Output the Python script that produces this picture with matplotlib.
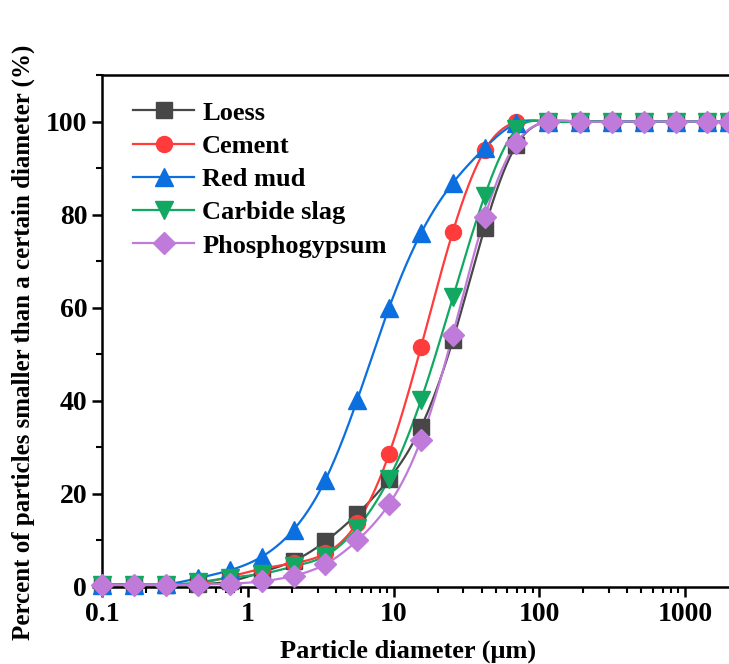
import numpy as np
import matplotlib
matplotlib.use("Agg")
import matplotlib.pyplot as plt
from matplotlib.ticker import FixedLocator, NullFormatter, MultipleLocator

# Particle size bins (μm)
diameter = [0.1, 0.165, 0.274, 0.453, 0.749, 1.24, 2.05, 3.39, 5.61, 9.28,
            15.35, 25.4, 42.0, 69.5, 115, 190, 314, 520, 860, 1423, 2000]

# Cumulative passing (%)
loess = [0.4, 0.4, 0.4, 0.6, 1.2, 3.2, 5.6, 9.8, 15.7, 23.2,
         34.3, 53.0, 77.1, 95.0, 100, 100, 100, 100, 100, 100, 100]
cement = [0.5, 0.5, 0.5, 0.8, 2.2, 3.9, 5.1, 7.2, 13.8, 28.6,
          51.5, 76.3, 93.8, 99.9, 100, 100, 100, 100, 100, 100, 100]
red_mud = [0.5, 0.5, 0.6, 1.9, 3.6, 6.5, 12.3, 23.0, 40.2, 60.0,
           76.0, 86.8, 94.3, 99.6, 100, 100, 100, 100, 100, 100, 100]
carbide_slag = [0.5, 0.5, 0.5, 1.0, 2.0, 2.8, 4.4, 6.7, 12.7, 23.3,
                40.1, 62.2, 84.0, 98.3, 100, 100, 100, 100, 100, 100, 100]
phosphogypsum = [0.4, 0.4, 0.4, 0.5, 0.7, 1.2, 2.4, 4.9, 10.0, 17.8,
                 31.6, 54.2, 79.4, 95.5, 100, 100, 100, 100, 100, 100, 100]

labels = ["Loess", "Cement", "Red mud", "Carbide slag", "Phosphogypsum"]
colors = ["#474747", "#ff3b3b", "#0b6fe0", "#12a862", "#c07ad9"]
markers = ["s", "o", "^", "v", "D"]
sizes = [11.5, 11.5, 12.5, 12.5, 11.5]


def natural_spline(x, y, xn):
    x = np.asarray(x, float)
    y = np.asarray(y, float)
    n = len(x)
    h = np.diff(x)
    A = np.zeros((n, n))
    b = np.zeros(n)
    A[0, 0] = 1
    A[-1, -1] = 1
    for i in range(1, n - 1):
        A[i, i - 1] = h[i - 1]
        A[i, i] = 2 * (h[i - 1] + h[i])
        A[i, i + 1] = h[i]
        b[i] = 6 * ((y[i + 1] - y[i]) / h[i] - (y[i] - y[i - 1]) / h[i - 1])
    M = np.linalg.solve(A, b)
    idx = np.clip(np.searchsorted(x, xn) - 1, 0, n - 2)
    x0, x1 = x[idx], x[idx + 1]
    hh = x1 - x0
    t0 = x1 - xn
    t1 = xn - x0
    return (M[idx] * t0 ** 3 / (6 * hh) + M[idx + 1] * t1 ** 3 / (6 * hh)
            + (y[idx] / hh - M[idx] * hh / 6) * t0
            + (y[idx + 1] / hh - M[idx + 1] * hh / 6) * t1)


plt.rcParams["font.family"] = ["Liberation Serif", "DejaVu Serif"]
plt.rcParams["font.weight"] = "bold"

fig = plt.figure(figsize=(7.29, 6.64), dpi=100)
ax = fig.add_axes([0.1406, 0.116, 0.8594, 0.771])

lx = np.log10(diameter)
xs = np.linspace(lx[0], lx[-1], 800)
for series, lab, col, mk, ms in zip(
        [loess, cement, red_mud, carbide_slag, phosphogypsum],
        labels, colors, markers, sizes):
    ys = natural_spline(lx, series, xs)
    ax.plot(10 ** xs, ys, color=col, lw=1.6, zorder=2)
    ax.plot(diameter, series, linestyle="none", marker=mk, ms=ms,
            color=col, zorder=3, clip_on=False)
    ax.plot([], [], color=col, lw=1.6, marker=mk, ms=ms, label=lab)

ax.set_xscale("log")
ax.set_xlim(0.1, 2000)
ax.set_ylim(0, 110)
ax.set_xticks([0.1, 1, 10, 100, 1000])
ax.set_xticklabels(["0.1", "1", "10", "100", "1000"])
minors = [m * 10.0 ** e for e in range(-1, 4) for m in range(2, 10)]
ax.xaxis.set_minor_locator(FixedLocator([v for v in minors if v < 2000]))
ax.xaxis.set_minor_formatter(NullFormatter())
ax.yaxis.set_major_locator(FixedLocator([0, 20, 40, 60, 80, 100]))
ax.yaxis.set_minor_locator(MultipleLocator(10))

for s in ["left", "bottom", "top"]:
    ax.spines[s].set_linewidth(1.8)
ax.spines["right"].set_visible(False)
ax.tick_params(which="major", direction="out", length=7, width=1.8,
               labelsize=20, pad=4, top=False, right=False)
ax.tick_params(which="minor", direction="out", length=4, width=1.5,
               top=False, right=False)
for t in ax.get_xticklabels() + ax.get_yticklabels():
    t.set_fontweight("bold")

ax.set_xlabel("Particle diameter (μm)", fontsize=19, fontweight="bold")
ax.set_ylabel("Percent of particles smaller than a certain diameter (%)",
              fontsize=18, fontweight="bold")
ax.xaxis.set_label_coords(0.488, -0.102)
ax.yaxis.set_label_coords(-0.107, 0.477)

leg = ax.legend(loc="upper left", frameon=False, fontsize=19,
                bbox_to_anchor=(0.02, 0.985), handlelength=2.3,
                labelspacing=0.37, handletextpad=0.3, borderaxespad=0.3)
for t in leg.get_texts():
    t.set_fontweight("bold")

fig.savefig("out.png", dpi=100)
